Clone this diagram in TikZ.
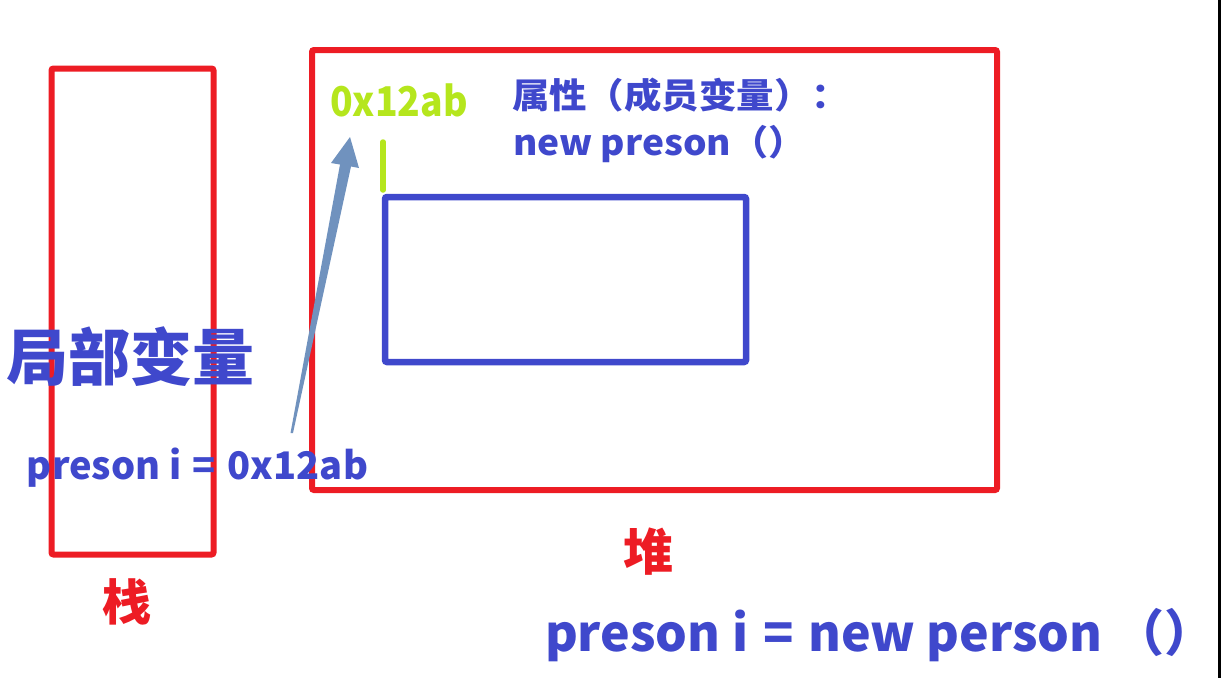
\documentclass[tikz,border=0pt]{standalone}
\usepackage{fontspec}
\setmainfont{Noto Sans CJK SC}
\usetikzlibrary{calc}
\definecolor{pred}{HTML}{ED1C24}
\definecolor{pblue}{HTML}{3F48CC}
\definecolor{pgreen}{HTML}{B5E61D}
\definecolor{parrow}{HTML}{7092BE}
\tikzset{
  box/.style={draw=pred,line width=6pt,rounded corners=2pt},
  objbox/.style={draw=pblue,line width=6.5pt,rounded corners=2pt},
  lbl/.style={inner sep=0pt,outer sep=0pt,anchor=base west,font=\bfseries},
}
\newcommand{\fs}[1]{\fontsize{#1}{#1}\selectfont}
\begin{document}
\begin{tikzpicture}[x=1pt,y=-1pt]
\useasboundingbox (0,0) rectangle (1221,678);
% boxes
\draw[box] (51.5,68.5) rectangle (213.5,554.5);
\draw[box] (312,50) rectangle (997,490);
\draw[objbox] (385,197) rectangle (746,362);
\coordinate (tickbot) at (383,190);
\coordinate (ticktop) at (383,142);
\draw[pgreen,line width=5.5pt,line cap=round] (tickbot) -- (ticktop);
% right edge line
\draw[black,line width=3pt] (1219.5,0) -- (1219.5,678);
% texts
\node[lbl,text=pgreen,xscale=0.91] (addr) at (330,116) {\fs{41}0x12ab};
\node[lbl,text=pblue,xscale=1.07] (attr) at (512,108) {\fs{35}属性（成员变量）：};
\node[lbl,text=pblue,xscale=1.06] (newp) at (513,155) {\fs{35}new preson（）};
\node[lbl,text=pblue] (local) at (6,380) {\fs{62}局部变量};
\node[lbl,text=pblue] (ref) at (27,479) {\fs{38}preson i\hspace{3pt} = \hspace{3pt}0x12ab};
\node[lbl,text=pred] (heapl) at (623,570) {\fs{50}堆};
\node[lbl,text=pred] (stackl) at (102,620) {\fs{49}栈};
\node[lbl,text=pblue] (code) at (545,651) {\fs{50}preson i\hspace{4pt} = \hspace{3pt}new person （）};
% arrow (tapered)
\coordinate (tip) at (350,137);
\coordinate (hl) at (331,163);
\coordinate (hr) at (359,168);
\coordinate (sl) at (340,164.5);
\coordinate (sr) at (351,166.5);
\coordinate (b1) at (290.5,433);
\coordinate (b2) at (293,433);
\fill[parrow] (tip) -- (hr) -- (sr) -- (b2) -- (b1) -- (sl) -- (hl) -- cycle;
\end{tikzpicture}
\end{document}
